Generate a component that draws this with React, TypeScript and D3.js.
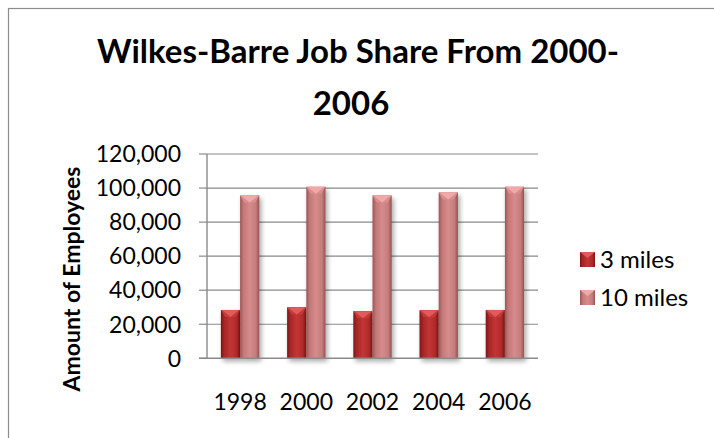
import React from "react";
import * as d3 from "d3";

const years = ["1998", "2000", "2002", "2004", "2006"];
const seriesNames = ["3 miles", "10 miles"];
const miles3 = [28400, 29900, 27600, 28200, 28400];
const miles10 = [95600, 100700, 95600, 97400, 100700];
const yTicks = [0, 20000, 40000, 60000, 80000, 100000, 120000];
const titleLines = ["Wilkes-Barre Job Share From 2000-", "2006"];
const yAxisTitle = "Amount of Employees";

const W = 714;
const H = 438;
const FONT = "Lato, 'Open Sans', sans-serif";

export default function App() {
  const plotLeft = 207;
  const plotRight = 538;
  const plotTop = 154;
  const plotBottom = 358.3;

  const x = d3.scaleBand<string>().domain(years).range([plotLeft, plotRight]).paddingInner(0.42).paddingOuter(0.21);
  const xs = d3.scaleBand<string>().domain(seriesNames).range([0, x.bandwidth()]).padding(0);
  const y = d3.scaleLinear().domain([0, 120000]).range([plotBottom, plotTop]);
  const fmt = d3.format(",");

  const data = years.map((yr, i) => ({ yr, vals: [miles3[i], miles10[i]] }));

  const grads = [
    { id: "g0", stops: ["#7e1616", "#a82626", "#c23535", "#b02a2a", "#7a1414"], top: "#e25a5a", topEdge: "#c23a3a" },
    { id: "g1", stops: ["#9c5454", "#c47878", "#d68c8c", "#c67c7c", "#945050"], top: "#f0a8a8", topEdge: "#d88e8e" },
  ];

  return (
    <svg width={W} height={H} style={{ position: "absolute", left: 0, top: 0, background: "#fff" }}>
      <defs>
        {grads.map((g) => (
          <linearGradient key={g.id} id={g.id} x1="0" x2="1" y1="0" y2="0">
            <stop offset="0%" stopColor={g.stops[0]} />
            <stop offset="18%" stopColor={g.stops[1]} />
            <stop offset="50%" stopColor={g.stops[2]} />
            <stop offset="82%" stopColor={g.stops[3]} />
            <stop offset="100%" stopColor={g.stops[4]} />
          </linearGradient>
        ))}
        <filter id="shadow" x="-30%" y="-10%" width="160%" height="130%">
          <feGaussianBlur in="SourceAlpha" stdDeviation="2.5" />
          <feOffset dx="2" dy="3" result="ob" />
          <feComponentTransfer>
            <feFuncA type="linear" slope="0.35" />
          </feComponentTransfer>
          <feMerge>
            <feMergeNode />
            <feMergeNode in="SourceGraphic" />
          </feMerge>
        </filter>
      </defs>
      <rect x={8.5} y={8.5} width={W + 20} height={H + 20} fill="#fff" stroke="#8c8c8c" strokeWidth={1.2} />

      {/* title */}
      <text x={358} y={63} textAnchor="middle" fontFamily={FONT} fontWeight="bold" fontSize={33} fill="#000">
        {titleLines[0]}
      </text>
      <text x={351} y={115} textAnchor="middle" fontFamily={FONT} fontWeight="bold" fontSize={33} fill="#000">
        {titleLines[1]}
      </text>

      {/* gridlines */}
      {yTicks.map((t) => (
        <g key={t}>
          {t > 0 && (
            <line x1={plotLeft} x2={plotRight} y1={y(t)} y2={y(t)} stroke="#8a8a8a" strokeWidth={1.2} />
          )}
          <line x1={plotLeft - 8} x2={plotLeft} y1={y(t)} y2={y(t)} stroke="#8a8a8a" strokeWidth={1.2} />
          <text x={181} y={y(t)} dy="0.36em" textAnchor="end" fontFamily={FONT} fontSize={23} fill="#000">
            {fmt(t)}
          </text>
        </g>
      ))}

      {/* bars */}
      {data.map((d) => (
        <g key={d.yr} transform={`translate(${x(d.yr)},0)`}>
          {d.vals.map((v, si) => {
            const bx = xs(seriesNames[si])!;
            const bw = xs.bandwidth();
            const top = y(v);
            const g = grads[si];
            const bevel = Math.min(7, bw / 2.6);
            return (
              <g key={si} filter="url(#shadow)">
                <rect x={bx} y={top} width={bw} height={plotBottom - top} fill={`url(#${g.id})`} />
                <path
                  d={`M${bx},${top} L${bx + bw},${top} L${bx + bw - bevel * 0.6},${top + bevel} L${bx + bevel * 0.6},${top + bevel} Z`}
                  fill={g.topEdge}
                />
                <path d={`M${bx + 1},${top} L${bx + bw - 1},${top} L${bx + bw / 2},${top + bevel} Z`} fill={g.top} />
              </g>
            );
          })}
        </g>
      ))}

      {/* axes */}
      <line x1={plotLeft} x2={plotLeft} y1={plotTop} y2={plotBottom} stroke="#8a8a8a" strokeWidth={1.4} />
      <line x1={plotLeft - 8} x2={plotRight} y1={plotBottom} y2={plotBottom} stroke="#8a8a8a" strokeWidth={1.4} />

      {/* x labels */}
      {years.map((yr) => (
        <text key={yr} x={x(yr)! + x.bandwidth() / 2} y={402} dy="0.36em" textAnchor="middle" fontFamily={FONT} fontSize={23} fill="#000">
          {yr}
        </text>
      ))}

      {/* y axis title */}
      <text
        transform={`translate(80,279) rotate(-90)`}
        textAnchor="middle"
        fontFamily={FONT}
        fontWeight="bold"
        fontSize={23}
        fill="#000"
      >
        {yAxisTitle}
      </text>

      {/* legend */}
      {seriesNames.map((s, i) => {
        const ly = 252 + i * 38;
        const g = grads[i];
        return (
          <g key={s}>
            <rect x={580} y={ly} width={15} height={15} fill={`url(#${g.id})`} />
            <path d={`M580,${ly} L595,${ly} L587.5,${ly + 6} Z`} fill={g.top} />
            <text x={600} y={ly + 7.5} dy="0.36em" fontFamily={FONT} fontSize={24} fill="#000">
              {s}
            </text>
          </g>
        );
      })}
    </svg>
  );
}
